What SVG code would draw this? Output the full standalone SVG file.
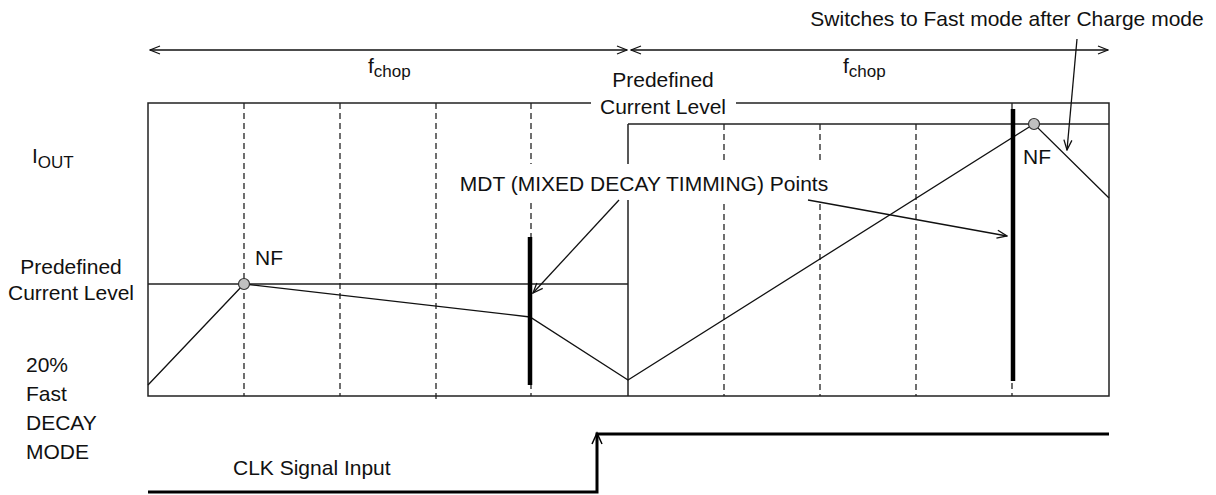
<svg xmlns="http://www.w3.org/2000/svg" width="1216" height="495" viewBox="0 0 1216 495">
<defs>
<style>
text{font-family:"Liberation Sans",Arial,sans-serif;font-size:21px;fill:#111}
.sub{font-size:17px}
.frame{fill:none;stroke:#222;stroke-width:1.5}
.dash{fill:none;stroke:#222;stroke-width:1.3;stroke-dasharray:6 4}
.wave{fill:none;stroke:#111;stroke-width:1.3}
.bar{fill:none;stroke:#000;stroke-width:4.5}
.arr{fill:none;stroke:#111;stroke-width:1.3}
.clk{fill:none;stroke:#000;stroke-width:3}
.dot{fill:#c0c0c0;stroke:#333;stroke-width:1.2}
</style>
<marker id="ah" viewBox="0 0 12 10" refX="11" refY="5" markerWidth="12" markerHeight="10" markerUnits="userSpaceOnUse" orient="auto-start-reverse">
<path d="M1,1 L11,5 L1,9" fill="none" stroke="#111" stroke-width="1.3"/>
</marker>
</defs>

<g id="grid">
<path class="frame" d="M591,103 H148 V396 H1109 V103 H736"/>
<path class="frame" d="M628,124 V396 M148,284 H628 M628,124 H1109"/>
<path class="dash" d="M244,103 V396 M340,103 V396 M436,103 V402 M531,103 V396 M724,124 V396 M820,124 V396 M916,124 V396 M1012,103 V396"/>
</g>

<g id="mdt-label">
<rect x="452" y="164" width="384" height="36" fill="#fff"/>
<text x="644" y="191" text-anchor="middle">MDT (MIXED DECAY TIMMING) Points</text>
</g>

<g id="waveform">
<polyline class="wave" points="148,385 244,284 530,317 628,380 1034,124 1109,198"/>
<line class="bar" x1="530" y1="237" x2="530" y2="385"/>
<line class="bar" x1="1013" y1="109" x2="1013" y2="381"/>
<circle class="dot" cx="244" cy="284" r="5.5"/>
<circle class="dot" cx="1034" cy="124" r="5.5"/>
<text x="255" y="265">NF</text>
<text x="1023" y="164">NF</text>
</g>

<g id="connectors">
<line class="arr" x1="150" y1="50" x2="627" y2="50" marker-start="url(#ah)" marker-end="url(#ah)"/>
<line class="arr" x1="631" y1="50" x2="1108" y2="50" marker-start="url(#ah)" marker-end="url(#ah)"/>
<line class="arr" x1="619" y1="200" x2="533" y2="293" marker-end="url(#ah)"/>
<line class="arr" x1="808" y1="200" x2="1007" y2="236" marker-end="url(#ah)"/>
<line class="arr" x1="1077" y1="39" x2="1067" y2="150" marker-end="url(#ah)"/>
</g>

<g id="labels">
<text x="368" y="73">f<tspan class="sub" dy="4">chop</tspan></text>
<text x="843" y="73">f<tspan class="sub" dy="4">chop</tspan></text>
<text x="663" y="87" text-anchor="middle">Predefined</text>
<text x="663" y="114" text-anchor="middle">Current Level</text>
<text x="1007" y="26" text-anchor="middle">Switches to Fast mode after Charge mode</text>
<text x="32" y="163">I<tspan class="sub" dy="5">OUT</tspan></text>
<text x="71" y="274" text-anchor="middle">Predefined</text>
<text x="71" y="300" text-anchor="middle">Current Level</text>
<text x="26" y="372">20%</text>
<text x="26" y="401">Fast</text>
<text x="26" y="430">DECAY</text>
<text x="26" y="459">MODE</text>
</g>

<g id="clk">
<path class="clk" d="M148,492 H597 V434 H1109"/>
<path d="M592,444 L597,433 L602,444" fill="none" stroke="#000" stroke-width="1.5"/>
<text x="233" y="475">CLK Signal Input</text>
</g>
</svg>
